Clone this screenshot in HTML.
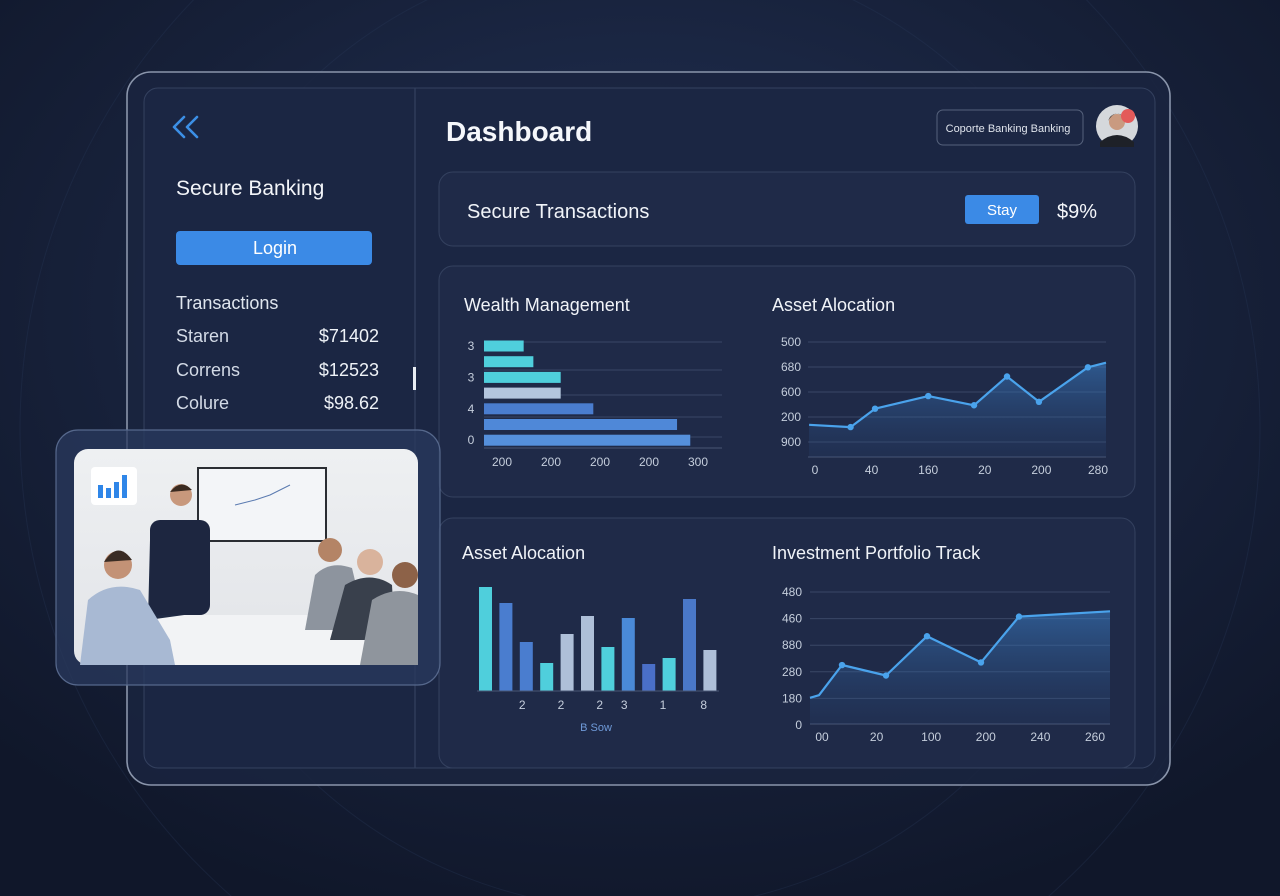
<!DOCTYPE html>
<html><head><meta charset="utf-8">
<style>
html,body{margin:0;padding:0;background:#131b30;width:1280px;height:896px;overflow:hidden;position:relative;}
svg#root{display:block;position:absolute;left:0;top:0;overflow:hidden;font-family:"Liberation Sans",sans-serif;}
</style></head>
<body>
<svg id="root" width="1280" height="896" viewBox="0 0 1280 896" xmlns="http://www.w3.org/2000/svg">
<defs>
<radialGradient id="bgGlow" cx="0.5" cy="0.35" r="0.7">
<stop offset="0" stop-color="#223257"/><stop offset="0.6" stop-color="#17213a"/><stop offset="1" stop-color="#10172a"/>
</radialGradient>
<linearGradient id="areaG" x1="0" y1="0" x2="0" y2="1">
<stop offset="0" stop-color="#3b7fc8" stop-opacity="0.55"/><stop offset="1" stop-color="#2a4c80" stop-opacity="0.15"/>
</linearGradient>
<linearGradient id="photoBg" x1="0" y1="0" x2="0" y2="1">
<stop offset="0" stop-color="#eef0f2"/><stop offset="1" stop-color="#e2e4e8"/>
</linearGradient>
<clipPath id="frameClip"><rect x="0" y="0" width="1280" height="896"/></clipPath>
</defs>
<g clip-path="url(#frameClip)">
<rect width="1280" height="896" fill="url(#bgGlow)"/>
<g fill="none" stroke="#2a3a5c" stroke-opacity="0.3" stroke-width="1">
<circle cx="640" cy="430" r="330"/><circle cx="640" cy="430" r="480"/><circle cx="640" cy="430" r="620"/>
</g>
</g>

<rect x="127" y="72" width="1043" height="713" rx="24" fill="#1a2440" fill-opacity="0.85" stroke="#8a95ab" stroke-width="1.6"/>
<rect x="144" y="88" width="1011" height="680" rx="14" fill="#1b2643" stroke="#34415f" stroke-width="1"/>
<line x1="415" y1="88" x2="415" y2="768" stroke="#34415f" stroke-width="1.2"/>
<rect x="413" y="367" width="3" height="23" fill="#e8ecf2"/>

<g fill="none" stroke="#3c8fe6" stroke-width="2.6" stroke-linecap="round" stroke-linejoin="round">
<polyline points="184,117 174,127 184,137"/><polyline points="197,117 187,127 197,137"/>
</g>
<text x="176" y="195" fill="#f3f5f9" font-size="21">Secure Banking</text>
<rect x="176" y="231" width="196" height="34" rx="4" fill="#3b8ae6"/>
<text x="275" y="254" fill="#ffffff" font-size="18" text-anchor="middle">Login</text>
<text x="176" y="309" fill="#dfe5ee" font-size="18">Transactions</text>
<g font-size="18" fill="#d3dae6">
<text x="176" y="342">Staren</text>
<text x="379" y="342" text-anchor="end" fill="#eef2f7">$71402</text>
<text x="176" y="376">Correns</text>
<text x="379" y="376" text-anchor="end" fill="#eef2f7">$12523</text>
<text x="176" y="409">Colure</text>
<text x="379" y="409" text-anchor="end" fill="#eef2f7">$98.62</text>
</g>

<text x="446" y="141" fill="#f5f7fb" font-size="28" font-weight="bold">Dashboard</text>
<rect x="937" y="110" width="146" height="35" rx="6" fill="#1c2744" stroke="#56627c" stroke-width="1"/>
<text x="1008" y="132" fill="#dfe4ec" font-size="11" text-anchor="middle">Coporte Banking Banking</text>
<g>
<circle cx="1117" cy="126" r="21" fill="#d5d8dc"/>
<path d="M1100 142 Q1117 128 1134 142 L1134 147 L1100 147Z" fill="#1e2128"/>
<circle cx="1117" cy="122" r="8" fill="#c99a80"/>
<path d="M1108 121 Q1117 106 1126 121 L1124 117 Q1117 110 1110 117Z" fill="#2a211c"/>
<circle cx="1128" cy="116" r="7" fill="#e35a5a"/>
</g>

<rect x="439" y="172" width="696" height="74" rx="14" fill="#1f2a48" stroke="#34415f"/>
<text x="467" y="218" fill="#f0f3f8" font-size="20">Secure Transactions</text>
<rect x="965" y="195" width="74" height="29" rx="3" fill="#3b8ae6"/>
<text x="1002" y="215" fill="#ffffff" font-size="15" text-anchor="middle">Stay</text>
<text x="1057" y="218" fill="#f5f7fb" font-size="20">$9%</text>

<rect x="439" y="266" width="696" height="231" rx="14" fill="#1f2a48" stroke="#34415f"/>
<rect x="439" y="518" width="696" height="250" rx="14" fill="#1f2a48" stroke="#34415f"/>
<text x="464" y="311" fill="#f0f3f8" font-size="18">Wealth Management</text>
<text x="772" y="311" fill="#f0f3f8" font-size="18">Asset Alocation</text>
<text x="462" y="559" fill="#f0f3f8" font-size="18">Asset Alocation</text>
<text x="772" y="559" fill="#f0f3f8" font-size="18">Investment Portfolio Track</text>

<g id="hbar"></g>
<g id="line1"></g>
<g id="vbar"></g>
<g id="line2"></g>

<g>
<rect x="56" y="430" width="384" height="255" rx="22" fill="#2a3a5e" fill-opacity="0.75" stroke="#56688c" stroke-width="1.2"/>
<rect x="74" y="449" width="344" height="216" rx="14" fill="url(#photoBg)"/>
<rect x="197" y="467" width="130" height="75" fill="#2a2d33"/>
<rect x="199" y="469" width="126" height="71" fill="#f3f5f8"/>
<polyline points="235,505 255,500 270,495 290,485" fill="none" stroke="#5a7ab0" stroke-width="1"/>
<rect x="100" y="615" width="318" height="50" fill="#f2f3f5"/>
<path d="M148 620 L150 540 Q165 520 188 525 L208 550 L206 612 Z" fill="#1f2a44"/>
<circle cx="181" cy="495" r="11" fill="#c8987c"/>
<path d="M170 492 Q181 478 192 490 Z" fill="#3a2a20"/>
<rect x="150" y="520" width="60" height="95" rx="10" fill="#1d2640"/>
<path d="M80 665 L88 600 Q110 580 140 590 L170 640 L175 665Z" fill="#a8b9d3"/>
<circle cx="118" cy="565" r="14" fill="#c39276"/>
<path d="M104 562 Q118 540 132 560 Z" fill="#3a2c24"/>
<path d="M305 630 L315 575 Q330 560 352 568 L362 610 L340 630Z" fill="#8d949e"/>
<circle cx="330" cy="550" r="12" fill="#b48466"/>
<path d="M330 640 L345 585 Q370 570 392 585 L395 640Z" fill="#39404c"/>
<circle cx="370" cy="562" r="13" fill="#d9b39c"/>
<path d="M360 665 L372 600 Q395 585 418 595 L418 665Z" fill="#8f959d"/>
<circle cx="405" cy="575" r="13" fill="#8d6248"/>
<rect x="91" y="467" width="46" height="38" rx="4" fill="#ffffff"/>
<rect x="98" y="485" width="5" height="13" fill="#2f86e8"/><rect x="106" y="488" width="5" height="10" fill="#2f86e8"/><rect x="114" y="482" width="5" height="16" fill="#2f86e8"/><rect x="122" y="475" width="5" height="23" fill="#2f86e8"/>
</g>
</svg>

<script>
const hbarValues = [45, 56, 87, 87, 124, 219, 234];
const hbarColors = ["#4fcfdc", "#4fcfdc", "#4fcfdc", "#b3c5dd", "#4a7dcf", "#4f88d8", "#5590dc"];
const hbarYLabels = ["3", "3", "4", "0"];
const hbarYLabelRows = [0, 2, 4, 6];
const hbarXTicks = ["200", "200", "200", "200", "300"];

const line1X = [1, 40, 63, 113, 156, 187, 217, 263, 280];
const line1Y = [28, 26, 42, 53, 45, 70, 48, 78, 82];
const line1Markers = [1, 2, 3, 4, 5, 6, 7];
const line1YTicks = ["500", "680", "600", "200", "900"];
const line1XTicks = ["0", "40", "160", "20", "200", "280"];

const vbarValues = [104, 88, 49, 28, 57, 75, 44, 73, 27, 33, 92, 41];
const vbarColors = ["#4fcfdc","#4a7dcf","#4a7dcf","#4fcfdc","#aebfd8","#aebfd8","#4fcfdc","#4a8ad8","#4a6fc8","#4fcfdc","#4a78c8","#aebfd8"];
const vbarXLabels = ["2", "2", "2", "3", "1", "8"];
const vbarXLabelPos = [1.8, 3.7, 5.6, 6.8, 8.7, 10.7];

const line2X = [0, 9, 32, 76, 117, 171, 209, 300];
const line2Y = [20, 22, 45, 37, 67, 47, 82, 86];
const line2Markers = [2, 3, 4, 5, 6];
const line2YTicks = ["480", "460", "880", "280", "180", "0"];
const line2XTicks = ["00", "20", "100", "200", "240", "260"];

const NS = "http://www.w3.org/2000/svg";
function mk(parent, tag, attrs, text) {
  const el = document.createElementNS(NS, tag);
  for (const k in attrs) el.setAttribute(k, attrs[k]);
  if (text !== undefined) el.textContent = text;
  parent.appendChild(el);
  return el;
}
function lin(d0, d1, r0, r1) { return v => r0 + (v - d0) / (d1 - d0) * (r1 - r0); }

(function () {
  const g = document.getElementById("hbar");
  const x = lin(0, 270, 484, 722);
  const rowY = i => 346 + i * 15.7;
  [342, 370, 395, 417, 437].forEach(gy => {
    const l = mk(g, "line", { x1: 484, x2: 722, y1: gy, y2: gy, stroke: "#3a4766", "stroke-width": 1 });
    
    
  });
  const ax = mk(g, "line", { x1: 484, x2: 722, y1: 448, y2: 448, stroke: "#4a5775", "stroke-width": 1 });
  
  
  hbarValues.forEach((v, i) => {
    const r = mk(g, "rect", { x: x(0), y: rowY(i) - 5.5, width: x(v) - x(0), height: 11, fill: hbarColors[i] });
    
    
  });
  hbarYLabels.forEach((t, i) => {
    const e = mk(g, "text", { x: 471, y: rowY(hbarYLabelRows[i]) + 4, fill: "#c5cedc", "font-size": 12, "text-anchor": "middle" }, t);
    
    
  });
  hbarXTicks.forEach((t, i) => {
    const e = mk(g, "text", { x: 502 + i * 49, y: 466, fill: "#c5cedc", "font-size": 12, "text-anchor": "middle" }, t);
    
    
  });
})();

function lineChart(id, X, Y, markers, yTicks, xTicks, cfg, prefix) {
  const g = document.getElementById(id);
  const x = lin(cfg.xd[0], cfg.xd[1], cfg.x0, cfg.x1);
  const y = lin(0, 100, cfg.yBase, cfg.yTop);
  yTicks.forEach((t, i) => {
    const gy = cfg.gridTop + i * cfg.gridStep;
    if (gy < cfg.yBase - 2) {
      const l = mk(g, "line", { x1: cfg.x0, x2: cfg.x1, y1: gy, y2: gy, stroke: "#3a4766", "stroke-width": 1 });
      
      
    }
    const e = mk(g, "text", { x: cfg.labelX, y: gy + 4, fill: "#c5cedc", "font-size": 12, "text-anchor": "end" }, t);
    
    
  });
  const ax = mk(g, "line", { x1: cfg.x0, x2: cfg.x1, y1: cfg.yBase, y2: cfg.yBase, stroke: "#4a5775", "stroke-width": 1 });
  
  
  xTicks.forEach((t, i) => {
    const px = cfg.xt0 + i * cfg.xtStep;
    const e = mk(g, "text", { x: px, y: cfg.yBase + 17, fill: "#c5cedc", "font-size": 12, "text-anchor": "middle" }, t);
    
    
  });
  const pts = X.map((v, i) => x(v).toFixed(1) + "," + y(Y[i]).toFixed(1));
  const area = mk(g, "path", { d: "M" + x(X[0]) + "," + cfg.yBase + " L" + pts.join(" L") + " L" + x(X[X.length - 1]) + "," + cfg.yBase + " Z", fill: "url(#areaG)" });
  
  
  const pl = mk(g, "polyline", { points: pts.join(" "), fill: "none", stroke: "#4aa3ec", "stroke-width": 2.2, "stroke-linejoin": "round" });
  
  
  markers.forEach(i => {
    const c = mk(g, "circle", { cx: x(X[i]), cy: y(Y[i]), r: 3.2, fill: "#4aa3ec" });
    
    
  });
}

lineChart("line1", line1X, line1Y, line1Markers, line1YTicks, line1XTicks,
  { xd: [0, 280], x0: 808, x1: 1106, yBase: 457, yTop: 342, gridTop: 342, gridStep: 25, labelX: 801, xt0: 815, xtStep: 56.6 }, "allocation-line");

lineChart("line2", line2X, line2Y, line2Markers, line2YTicks, line2XTicks,
  { xd: [0, 300], x0: 810, x1: 1110, yBase: 724, yTop: 593, gridTop: 592, gridStep: 26.6, labelX: 802, xt0: 822, xtStep: 54.6 }, "portfolio-line");

(function () {
  const g = document.getElementById("vbar");
  const base = 691;
  const xPos = i => 479 + i * 20.4;
  const h = v => v;
  vbarValues.forEach((v, i) => {
    const r = mk(g, "rect", { x: xPos(i), y: base - h(v), width: 13, height: h(v), fill: vbarColors[i] });
    
    
  });
  const ax = mk(g, "line", { x1: 477, x2: 719, y1: base, y2: base, stroke: "#4a5775", "stroke-width": 1 });
  
  
  vbarXLabels.forEach((t, i) => {
    const e = mk(g, "text", { x: xPos(vbarXLabelPos[i]) + 6.5, y: 709, fill: "#c5cedc", "font-size": 12, "text-anchor": "middle" }, t);
    
    
  });
  const lbl = mk(g, "text", { x: 596, y: 731, fill: "#6f9ad8", "font-size": 11, "text-anchor": "middle" }, "B Sow");
  
  
})();
</script>
</body></html>
